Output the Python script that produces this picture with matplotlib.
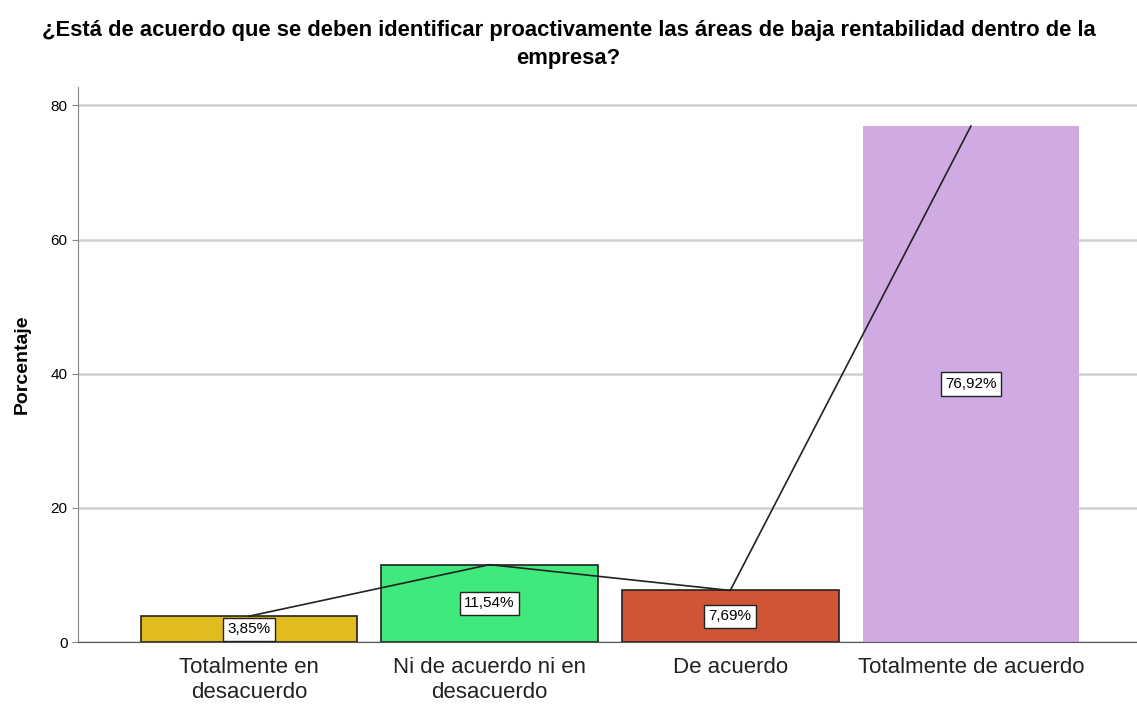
import matplotlib.pyplot as plt

plt.rcParams['font.family'] = ['Liberation Sans', 'DejaVu Sans']

# Respuestas y porcentajes
categorias = ['Totalmente en\ndesacuerdo', 'Ni de acuerdo ni en\ndesacuerdo',
              'De acuerdo', 'Totalmente de acuerdo']
porcentajes = [3.85, 11.54, 7.69, 76.92]
colores = ['#E0BC1F', '#3FE97C', '#D05535', '#D0AAE3']
bordes = ['#222222', '#222222', '#222222', 'none']

fig = plt.figure(figsize=(11.37, 7.04), dpi=100)
ax = fig.add_axes([0.0686, 0.088, 0.9314, 0.788])

x = range(len(categorias))
for i, (v, c, b) in enumerate(zip(porcentajes, colores, bordes)):
    ax.bar(i, v, width=0.9, color=c, edgecolor=b, linewidth=1.2, zorder=2)

# Linea que une los valores
ax.plot(list(x), porcentajes, color='#222222', linewidth=1.2, zorder=3)

# Etiquetas de porcentaje a media altura
for i, v in enumerate(porcentajes):
    ax.text(i, v / 2, f'{v:.2f}%'.replace('.', ','), ha='center', va='center',
            fontsize=11, zorder=4,
            bbox=dict(boxstyle='square,pad=0.3', facecolor='white',
                      edgecolor='#222222', linewidth=1))

ax.set_xlim(-0.71, 3.69)
ax.set_ylim(0, 82.7)
ax.set_yticks([0, 20, 40, 60, 80])
ax.yaxis.grid(True, color='#D0D0D0', linewidth=1.8, zorder=0)
ax.set_axisbelow(True)

ax.set_xticks(list(x))
ax.set_xticklabels(categorias, fontsize=16, color='#222222', linespacing=1.2)
ax.tick_params(axis='x', length=0, pad=11)
ax.tick_params(axis='y', labelsize=11, length=4, color='#888888')

for s in ['top', 'right']:
    ax.spines[s].set_visible(False)
ax.spines['left'].set_color('#888888')
ax.spines['bottom'].set_color('#555555')

ax.set_ylabel('Porcentaje', fontsize=14, fontweight='bold', labelpad=14)
fig.text(0.5, 0.972, '¿Está de acuerdo que se deben identificar proactivamente las áreas de baja rentabilidad dentro de la\nempresa?',
         ha='center', va='top', fontsize=15.8, fontweight='bold', linespacing=1.45)

fig.savefig('out.png', dpi=100)
